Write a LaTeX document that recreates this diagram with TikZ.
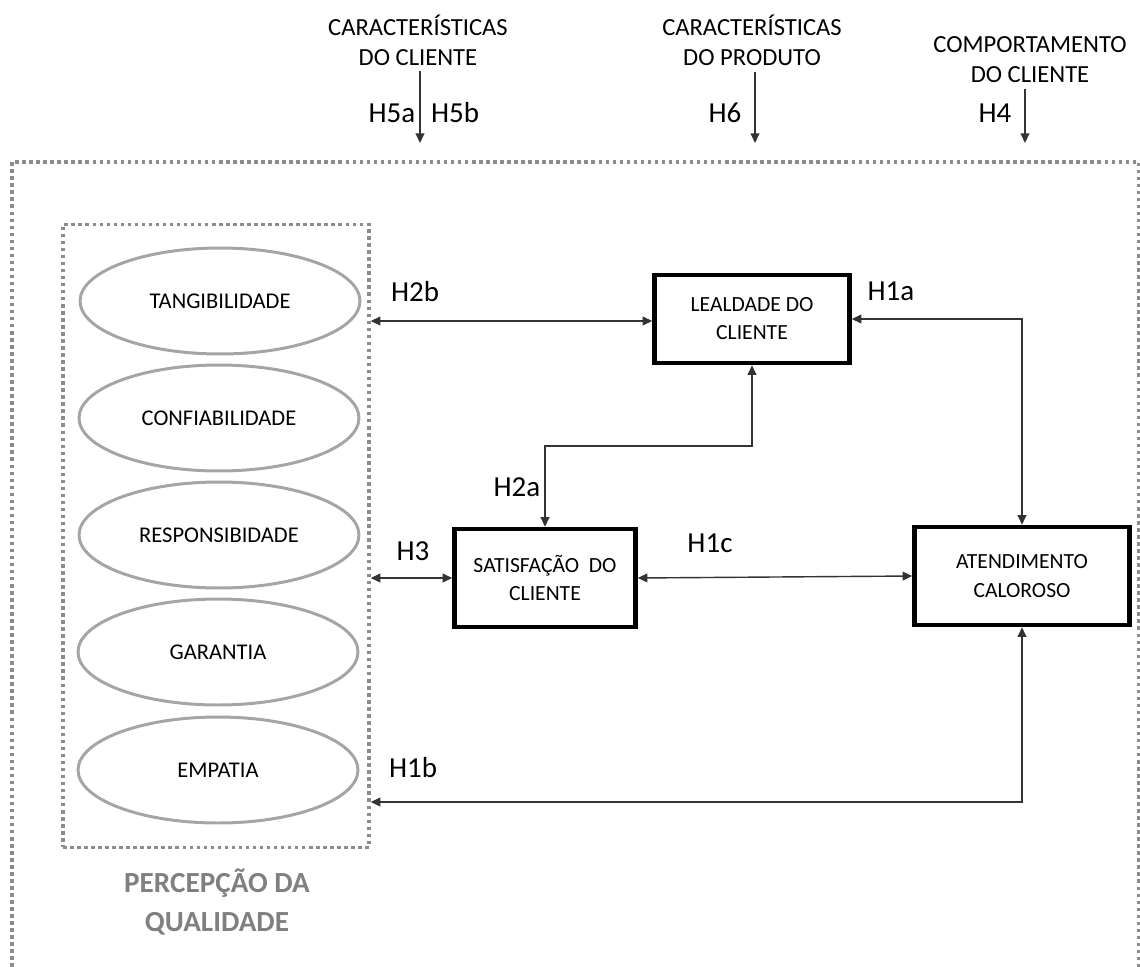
\documentclass[tikz,border=0pt]{standalone}
\usepackage{fontspec}
\setmainfont{Carlito}
\usepackage{xcolor}
\usetikzlibrary{shapes.geometric,arrows.meta,positioning,calc}
\definecolor{dotgray}{RGB}{140,140,140}
\definecolor{ringgray}{RGB}{165,165,165}
\definecolor{labelgray}{RGB}{128,128,128}

\begin{document}
\begin{tikzpicture}[
    x=0.02cm, y=-0.02cm,
    quality/.style = {draw=ringgray, ellipse, line width=1.7pt, minimum width=5.6cm, minimum height=2.12cm, font=\fontsize{12.8}{15}\selectfont},
    construct/.style = {draw, line width=2.6pt, align=center, font=\fontsize{12.3}{16}\selectfont},
    dotframe/.style = {draw=dotgray, line width=2pt, dash pattern=on 2pt off 2pt},
    factor/.style = {align=center, font=\fontsize{14}{17}\selectfont},
    hyp/.style = {font=\fontsize{16.5}{19}\selectfont},
    link/.style = {draw=black!80, line width=0.8pt, {Triangle[length=5.5pt,width=5pt]}-{Triangle[length=5.5pt,width=5pt]}},
    tip/.style = {draw=black!80, line width=0.8pt, -{Triangle[length=5.5pt,width=5pt]}}
]
    \useasboundingbox (0,0) rectangle (1140,967);

    % outer frame
    \draw[dotframe] (12,967) -- (12,162) -- (1139,162) -- (1139,967);

    % quality dimensions
    \node[dotframe, minimum width=6.12cm, minimum height=12.46cm] (qframe) at (216,536) {};
    \node[quality] (tang) at (220,301) {TANGIBILIDADE};
    \node[quality] (conf) at (219,418) {CONFIABILIDADE};
    \node[quality] (resp) at (219,535) {RESPONSIBIDADE};
    \node[quality] (gara) at (218,652) {GARANTIA};
    \node[quality] (empa) at (218,770) {EMPATIA};
    \node[align=center, text=labelgray, font=\bfseries\fontsize{16.6}{22.5}\selectfont] (percep) at (217,902) {PERCEPÇÃO DA\\QUALIDADE};

    % constructs
    \node[construct, minimum width=3.9cm, minimum height=1.76cm] (lealdade) at (752,319) {LEALDADE DO\\CLIENTE};
    \node[construct, minimum width=3.62cm, minimum height=1.96cm] (satisf) at (545,578) {SATISFAÇÃO\ \ DO\\CLIENTE};
    \node[construct, minimum width=4.3cm, minimum height=1.96cm] (atend) at (1022,576) {ATENDIMENTO\\CALOROSO};

    % moderators
    \node[factor] (cliente) at (418,40) {CARACTERÍSTICAS\\DO CLIENTE};
    \node[factor] (produto) at (752,40) {CARACTERÍSTICAS\\DO PRODUTO};
    \node[factor] (comport) at (1030,60) {COMPORTAMENTO\\DO CLIENTE};
    \draw[tip] (cliente.south -| 420,0) -- (420,143);
    \draw[tip] (produto.south -| 755,0) -- (755,143);
    \draw[tip] (comport.south -| 1025,0) -- (1025,143);
    \node[hyp] (h5a) at (392,113) {H5a};
    \node[hyp] (h5b) at (455,113) {H5b};
    \node[hyp] (h6) at (725,113) {H6};
    \node[hyp] (h4) at (995,113) {H4};

    % hypotheses
    \draw[link] (qframe.east |- 0,321) -- (lealdade.west |- 0,321);
    \draw[link] (lealdade.east) -| (atend.north);
    \draw[link] (lealdade.south) |- (545,446) -| (satisf.north);
    \draw[link] (qframe.east |- satisf.west) -- (satisf.west);
    \draw[link] (satisf.east) -- (atend.west);
    \draw[link] (atend.south) |- (qframe.east |- 0,802);

    \node[hyp] (h2b) at (415,292) {H2b};
    \node[hyp] (h1a) at (891,291) {H1a};
    \node[hyp] (h2a) at (517,487) {H2a};
    \node[hyp] (h3) at (413,551) {H3};
    \node[hyp] (h1c) at (710,543) {H1c};
    \node[hyp] (h1b) at (413,768) {H1b};
\end{tikzpicture}
\end{document}
